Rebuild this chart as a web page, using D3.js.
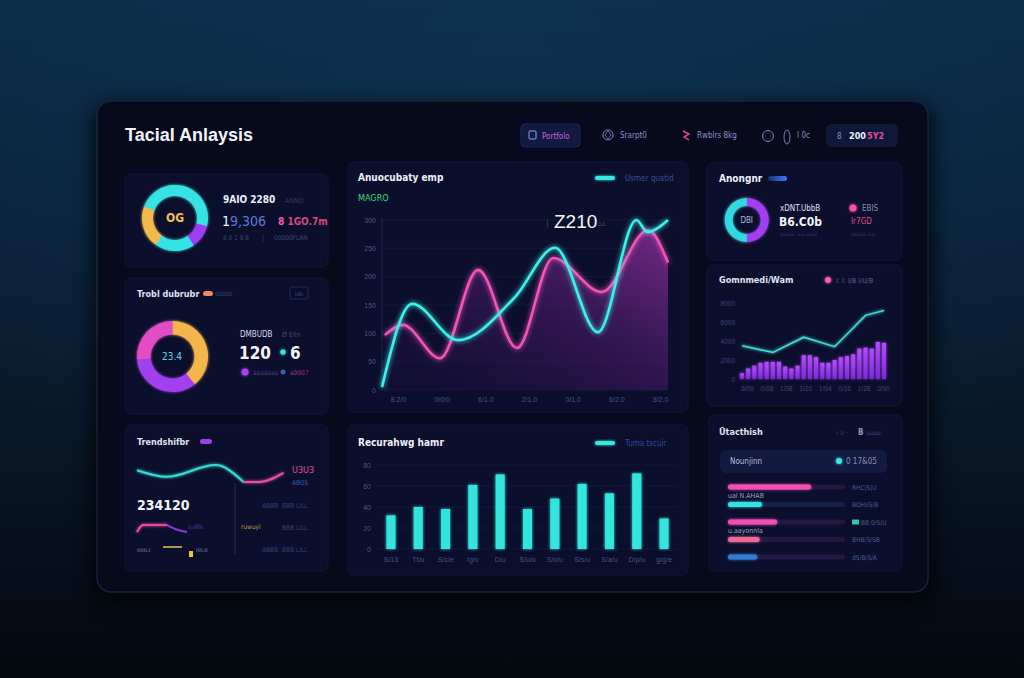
<!DOCTYPE html>
<html><head><meta charset="utf-8">
<script src="https://cdn.jsdelivr.net/npm/d3@7"></script>
<style>
html,body{margin:0;padding:0;background:#06101c;overflow:hidden}
svg{display:block}
text{font-family:"Liberation Sans Narrow","DejaVu Sans Condensed","Roboto",sans-serif}
</style></head><body>
<svg id="c" width="1024" height="678"></svg>
<script>
// ---------- DATA ----------
const title = "Tacial Anlaysis";
const navItems = ["Portfolo", "Srarpt0", "Rwblrs 8kg", "I 0c"];

// donut 1 (top-left)
const donut1Values = [29, 11.4, 19.7, 20.6, 19.3];
const donut1Colors = ["#36e2e4", "#9b3df2", "#36e2e4", "#f3b84c", "#36e2e4"];
// donut 2 (middle-left)
const donut2Values = [39.2, 34.4, 26.4];
const donut2Colors = ["#f4b64c", "#a23ff0", "#e24ec6"];
// donut 3 (top-right)
const donut3Values = [50, 50];
const donut3Colors = ["#a23ff0", "#30d8e2"];

// main line chart
const lineXLabels = ["8.2/0", "0/0/0", "6/1.0", "2/1.0", "6/1.0", "0/1.0", "6/2.0", "8/2.0"];
const lineYTicks = [0, 50, 100, 150, 200, 250, 300];
const cyanT = [0, 10.5, 26.6, 46.5, 60.5, 75.5, 89, 92.7, 100];
const cyanV = [5, 152, 88, 164, 251, 102, 300, 279, 300];
const pinkT = [1, 7.3, 20.3, 33.6, 47.2, 59.8, 76.9, 93, 100];
const pinkV = [97, 115, 56, 212, 74, 233, 173, 282, 225];

// bar chart (center bottom)
const barLabels = ["S/13", "Tt/u", "S/c/e", "Ig/u", "D/u", "S/u/o", "S/o/u", "S/s/u", "S/a/u", "D/p/u", "g/g/e"];
const barValues = [32, 40, 38, 61, 71, 38, 48, 62, 53, 72, 29];
const barYTicks = [0, 20, 40, 60, 80];

// mini combo chart (right middle)
const miniBars = [600, 1100, 1400, 1700, 1800, 1800, 1800, 1300, 1100, 1400, 2500, 2500, 2300, 1700, 1700, 2000, 2300, 2400, 2600, 3200, 3300, 3200, 3900, 3800];
const miniLineIdx = [0, 5, 10, 15, 20, 23];
const miniLineVals = [3500, 2800, 4400, 3400, 6700, 7200];
const miniYTicks = [0, 2000, 4000, 6000, 8000];
const miniXLabels = ["6/09", "0/08", "1/08", "1/26", "1/04", "0/16", "1/28", "0/90"];

// progress bars (right bottom)
const progressVals = [71, 29, 42, 27, 25];
const progressColors = ["#f050b4", "#34e2e0", "#f050b4", "#f06a98", "#2f7fd2"];
const progressLabels = ["RHC|S|U", "BOHI/S/B", "BB 0/S/U", "BHB/S/SB", "dS/B/S/A"];

// trend sparkline (left bottom)
const trendCyanT = [0, 2, 5.3, 7.2];
const trendCyanV = [66, 44, 83, 27];
const trendPinkT = [7.2, 8.3, 9.9];
const trendPinkV = [27, 27, 57];
const miniPinkT = [0, 6, 30];
const miniPinkV = [2.5, 8.3, 8.3];
const miniPurpleT = [30, 41, 50];
const miniPurpleV = [8.3, 4.2, 2.5];

// ---------- SETUP ----------
const svg = d3.select("#c");
const defs = svg.append("defs");

const bg = defs.append("linearGradient").attr("id", "bg").attr("x1", 0).attr("y1", 0).attr("x2", 0).attr("y2", 1);
bg.append("stop").attr("offset", 0).attr("stop-color", "#0d2c46");
bg.append("stop").attr("offset", 0.45).attr("stop-color", "#0a1f34");
bg.append("stop").attr("offset", 1).attr("stop-color", "#04080f");

const rg = defs.append("radialGradient").attr("id", "rg").attr("cx", 0.5).attr("cy", 0.1).attr("r", 0.7);
rg.append("stop").attr("offset", 0).attr("stop-color", "#10385a").attr("stop-opacity", 0.5);
rg.append("stop").attr("offset", 1).attr("stop-color", "#10385a").attr("stop-opacity", 0);

function glow(id, sd) {
  const f = defs.append("filter").attr("id", id).attr("x", "-50%").attr("y", "-50%").attr("width", "200%").attr("height", "200%");
  f.append("feGaussianBlur").attr("stdDeviation", sd).attr("result", "b");
  const m = f.append("feMerge");
  m.append("feMergeNode").attr("in", "b");
  m.append("feMergeNode").attr("in", "SourceGraphic");
}
glow("glow", 2.5);
glow("glowS", 1.4);
const sh = defs.append("filter").attr("id", "shadow").attr("x", "-10%").attr("y", "-10%").attr("width", "120%").attr("height", "130%");
sh.append("feGaussianBlur").attr("stdDeviation", 10);

const ag = defs.append("linearGradient").attr("id", "areaG").attr("x1", 0).attr("y1", 1).attr("x2", 1).attr("y2", 0);
ag.append("stop").attr("offset", 0).attr("stop-color", "#1a0c38").attr("stop-opacity", 0.3);
ag.append("stop").attr("offset", 0.55).attr("stop-color", "#4a1a68").attr("stop-opacity", 0.6);
ag.append("stop").attr("offset", 1).attr("stop-color", "#8a2e98").attr("stop-opacity", 0.85);

const pg = defs.append("linearGradient").attr("id", "purpleBar").attr("x1", 0).attr("y1", 0).attr("x2", 0).attr("y2", 1);
pg.append("stop").attr("offset", 0).attr("stop-color", "#b64cff");
pg.append("stop").attr("offset", 1).attr("stop-color", "#7a2ad6");

const bp = defs.append("linearGradient").attr("id", "bluePill").attr("x1", 0).attr("y1", 0).attr("x2", 1).attr("y2", 0);
bp.append("stop").attr("offset", 0).attr("stop-color", "#1a3070");
bp.append("stop").attr("offset", 1).attr("stop-color", "#3a7cff");

svg.append("rect").attr("width", 1024).attr("height", 678).attr("fill", "url(#bg)");
svg.append("rect").attr("width", 1024).attr("height", 678).attr("fill", "url(#rg)");

// frame
svg.append("rect").attr("x", 92).attr("y", 104).attr("width", 842).attr("height", 500).attr("rx", 16)
  .attr("fill", "#000").attr("opacity", 0.7).attr("filter", "url(#shadow)");
svg.append("rect").attr("x", 97).attr("y", 101).attr("width", 831).attr("height", 491).attr("rx", 14)
  .attr("fill", "#070a1d").attr("stroke", "#16243a").attr("stroke-width", 1.5);

function T(x, y, s, size, fill, opts = {}) {
  const t = svg.append("text").attr("x", x).attr("y", y).text(s)
    .attr("font-size", size).attr("fill", fill);
  if (opts.bold) t.attr("font-weight", "bold");
  if (opts.anchor) t.attr("text-anchor", opts.anchor);
  if (opts.family) t.style("font-family", opts.family);
  return t;
}

// title
T(125, 141, title, 18, "#f2f4fa", { bold: true, family: "'Liberation Sans',Arial,sans-serif" });

// nav
svg.append("rect").attr("x", 521).attr("y", 124).attr("width", 59).attr("height", 23).attr("rx", 4).attr("fill", "#121a42").attr("stroke", "#1c2858");
svg.append("line").attr("x1", 527).attr("x2", 574).attr("y1", 146).attr("y2", 146).attr("stroke", "#8a52e6").attr("stroke-width", 1.5).attr("filter", "url(#glowS)");
svg.append("rect").attr("x", 529).attr("y", 131).attr("width", 7).attr("height", 8).attr("rx", 1).attr("fill", "none").attr("stroke", "#8aa4e8");
T(542, 139, navItems[0], 8, "#d062dc");
svg.append("circle").attr("cx", 608).attr("cy", 135).attr("r", 5).attr("fill", "none").attr("stroke", "#7888b8");
svg.append("path").attr("d", "M608,131 L611,135 L608,139 L605,135Z").attr("fill", "none").attr("stroke", "#7888b8").attr("stroke-width", 0.8);
T(620, 138, navItems[1], 8, "#8a94c4");
svg.append("path").attr("d", "M683,131 L689,134 L684,137 L689,140").attr("fill", "none").attr("stroke", "#e4508c").attr("stroke-width", 1.4);
T(697, 138, navItems[2], 8, "#8a94c4");
svg.append("circle").attr("cx", 768).attr("cy", 136).attr("r", 5.5).attr("fill", "none").attr("stroke", "#7080b0");
svg.append("ellipse").attr("cx", 787).attr("cy", 137).attr("rx", 3).attr("ry", 7).attr("fill", "none").attr("stroke", "#7080b0");
T(797, 138, navItems[3], 8, "#8a94c4");
svg.append("rect").attr("x", 826).attr("y", 124).attr("width", 72).attr("height", 23).attr("rx", 5).attr("fill", "#0f1838");
T(837, 139, "8", 8, "#8090c0");
T(849, 139, "200", 9, "#f0f2fa", { bold: true });
T(867, 139, "5Y2", 9, "#e24c9c", { bold: true });

// panels
const panels = [
  [125, 174, 203, 93], [125, 278, 203, 136], [125, 425, 203, 146],
  [348, 162, 340, 250], [348, 425, 340, 150],
  [707, 163, 195, 97], [707, 265, 195, 141], [709, 415, 193, 156]
];
panels.forEach(p => svg.append("rect").attr("x", p[0]).attr("y", p[1]).attr("width", p[2]).attr("height", p[3]).attr("rx", 6)
  .attr("fill", "#0b0f2c").attr("stroke", "#10173a").attr("stroke-width", 1));

// donut helper
function donut(cx, cy, r0, r1, vals, cols) {
  const pie = d3.pie().sort(null).value(d => d)(vals);
  const arc = d3.arc().innerRadius(r0).outerRadius(r1);
  svg.append("g").attr("transform", `translate(${cx},${cy})`).attr("filter", "url(#glowS)")
    .selectAll("path").data(pie).join("path").attr("d", arc).attr("fill", (d, i) => cols[i]);
}

// ---- left panel 1 ----
donut(175, 218, 22, 33, donut1Values, donut1Colors);
T(175, 222, "OG", 12, "#f3c050", { bold: true, anchor: "middle" });
T(223, 203, "9AIO 2280", 10, "#eef0fa", { bold: true });
T(285, 203, "ANNO", 7, "#333e66");
const big1 = T(222, 226, "", 14, "#5a7ad8");
big1.append("tspan").attr("fill", "#eef0fa").text("1");
big1.append("tspan").text("9,306");
const pk1 = T(278, 225, "", 10, "#d8487e", { bold: true });
pk1.append("tspan").attr("fill", "#ff5aa0").text("8 ");
pk1.append("tspan").text("1GO.7m");
T(223, 240, "8 0 1 8 8", 6.5, "#3a4670");
T(262, 240, "|", 6.5, "#3a4670");
T(274, 240, "00000FLAN", 6.5, "#3a4670");

// ---- left panel 2 ----
T(137, 297, "Trobl dubrubr", 9, "#dfe3f2", { bold: true });
svg.append("rect").attr("x", 203).attr("y", 291).attr("width", 10).attr("height", 5).attr("rx", 2.5).attr("fill", "#f08468");
T(215, 296, "00000", 6, "#3a4670");
svg.append("rect").attr("x", 290).attr("y", 287).attr("width", 18).attr("height", 12).attr("rx", 2).attr("fill", "none").attr("stroke", "#222c58");
T(299, 296, "ldb", 6, "#3a4670", { anchor: "middle" });
donut(172.5, 356.5, 22, 35.5, donut2Values, donut2Colors);
T(172, 360, "23.4", 10, "#5fd8ee", { anchor: "middle" });
T(240, 337, "DMBUDB", 8, "#d8dcee");
T(282, 337, "Ø Elln", 7, "#3a4670");
T(239, 359, "120", 17, "#f2f4fa", { bold: true });
svg.append("circle").attr("cx", 283).attr("cy", 352).attr("r", 2.6).attr("fill", "#38e4e4").attr("filter", "url(#glowS)");
T(290, 359, "6", 17, "#f2f4fa", { bold: true });
svg.append("circle").attr("cx", 245).attr("cy", 372).attr("r", 3.5).attr("fill", "#a63ff0").attr("filter", "url(#glowS)");
T(253, 375, "aaaaaaa", 6.5, "#4a3a86");
svg.append("circle").attr("cx", 283).attr("cy", 372).attr("r", 2.5).attr("fill", "#2a6ab4");
T(290, 375, "a0007", 6.5, "#9a3468");

// ---- left panel 3 ----
T(137, 445, "Trendshifbr", 9, "#dfe3f2", { bold: true });
svg.append("rect").attr("x", 200).attr("y", 439).attr("width", 12).attr("height", 5).attr("rx", 2.5).attr("fill", "#9a42e6");
const tx = d3.scaleLinear().domain([0, 10]).range([137, 285]);
const ty = d3.scaleLinear().domain([0, 100]).range([490, 460]);
const tl = d3.line().x(d => d[0]).y(d => d[1]).curve(d3.curveMonotoneX);
svg.append("path").attr("d", tl(trendCyanT.map((t, i) => [tx(t), ty(trendCyanV[i])])))
  .attr("fill", "none").attr("stroke", "#34dcd8").attr("stroke-width", 2).attr("filter", "url(#glowS)");
svg.append("path").attr("d", tl(trendPinkT.map((t, i) => [tx(t), ty(trendPinkV[i])])))
  .attr("fill", "none").attr("stroke", "#ee4ea8").attr("stroke-width", 2).attr("filter", "url(#glowS)");
T(292, 473, "U3U3", 9, "#e44c9e");
T(292, 485, "ABO5", 6.5, "#3060b0");
T(137, 510, "234120", 14, "#f2f4fa", { bold: true });
svg.append("line").attr("x1", 235).attr("x2", 235).attr("y1", 483).attr("y2", 554).attr("stroke", "#283252");
const mx = d3.scaleLinear().domain([0, 50]).range([137, 187]);
const my = d3.scaleLinear().domain([0, 10]).range([535, 523]);
svg.append("path").attr("d", tl(miniPinkT.map((t, i) => [mx(t), my(miniPinkV[i])])))
  .attr("fill", "none").attr("stroke", "#ec4c9a").attr("stroke-width", 2).attr("filter", "url(#glowS)");
svg.append("path").attr("d", tl(miniPurpleT.map((t, i) => [mx(t), my(miniPurpleV[i])])))
  .attr("fill", "none").attr("stroke", "#8a3ed8").attr("stroke-width", 2);
T(188, 529, "ıı.ıIlllı", 6.5, "#5a3ca0");
T(241, 529, "ruwuyl", 6.5, "#b89a48");
[508, 530, 552].forEach((y, i) => {
  if (i !== 1) T(262, y, "ABBB", 6.5, "#34447a");
  T(282, y, "BBB", 6.5, "#34447a");
  T(296, y, "LILL", 6.5, "#34447a");
});
T(137, 552, "ıııııı.ı", 6.5, "#8088b0");
svg.append("line").attr("x1", 163).attr("x2", 182).attr("y1", 547).attr("y2", 547).attr("stroke", "#e8c05a").attr("stroke-width", 1.5);
svg.append("rect").attr("x", 189).attr("y", 551).attr("width", 4).attr("height", 6).attr("fill", "#f0c040");
T(196, 552, "ıııı.ıı", 6.5, "#8088b0");

// ---- center top: line chart ----
T(358, 181, "Anuocubaty emp", 10, "#eef0fa", { bold: true });
T(358, 201, "MAGRO", 9, "#3cd870");
svg.append("rect").attr("x", 595).attr("y", 176).attr("width", 20).attr("height", 4).attr("rx", 2).attr("fill", "#38e8e0").attr("filter", "url(#glowS)");
T(625, 181, "Usmer quatid", 8, "#34508e");

const lx = d3.scaleLinear().domain([0, 100]).range([382, 668]);
const ly = d3.scaleLinear().domain([0, 300]).range([390, 220]);
const lxp = d3.scalePoint().domain(lineXLabels).range([398, 660]);

const gl = svg.append("g");
gl.selectAll("line.g").data(lineYTicks).join("line").attr("x1", 382).attr("x2", 668)
  .attr("y1", d => ly(d)).attr("y2", d => ly(d)).attr("stroke", "#151c44").attr("stroke-width", 0.7);
gl.append("line").attr("x1", 382).attr("x2", 382).attr("y1", 218).attr("y2", 390).attr("stroke", "#1c2450");
const yAx = svg.append("g").attr("transform", "translate(382,0)")
  .call(d3.axisLeft(ly).tickValues(lineYTicks).tickSize(0).tickPadding(6));
yAx.select(".domain").remove();
yAx.selectAll("text").attr("fill", "#4a5582").attr("font-size", 7).style("font-family", "'Liberation Sans Narrow',sans-serif");
const xAx = svg.append("g").attr("transform", "translate(0,392)")
  .call(d3.axisBottom(lxp).tickSize(0).tickPadding(5));
xAx.select(".domain").remove();
xAx.selectAll("text").attr("fill", "#4a5582").attr("font-size", 7).style("font-family", "'Liberation Sans Narrow',sans-serif");

const pinkPts = pinkT.map((t, i) => [t, pinkV[i]]);
const cyanPts = cyanT.map((t, i) => [t, cyanV[i]]);
const area = d3.area().x(d => lx(d[0])).y0(ly(0)).y1(d => ly(d[1])).curve(d3.curveMonotoneX);
svg.append("path").attr("d", area(pinkPts)).attr("fill", "url(#areaG)");
const line = d3.line().x(d => lx(d[0])).y(d => ly(d[1])).curve(d3.curveMonotoneX);
svg.append("path").attr("d", line(pinkPts)).attr("fill", "none").attr("stroke", "#f452b8").attr("stroke-width", 2.6).attr("filter", "url(#glow)");
svg.append("path").attr("d", line(cyanPts)).attr("fill", "none").attr("stroke", "#3cf0ea").attr("stroke-width", 2.6).attr("filter", "url(#glow)");
T(546, 226, "|", 9, "#3a4670");
T(554, 228, "Z210", 19, "#f4f6fc", { family: "'Liberation Sans',Arial,sans-serif" });
T(598, 226, "ΔΔ", 6, "#3a4670");

// ---- center bottom: bar chart ----
T(358, 446, "Recurahwg hamr", 10, "#eef0fa", { bold: true });
svg.append("rect").attr("x", 595).attr("y", 441).attr("width", 20).attr("height", 4).attr("rx", 2).attr("fill", "#38e8e0").attr("filter", "url(#glowS)");
T(625, 446, "Tuma tscuir", 8, "#2a4aa0");
const bx = d3.scaleBand().domain(barLabels).range([377.4, 677.6]).paddingInner(0.67).paddingOuter(0.33);
const by = d3.scaleLinear().domain([0, 80]).range([549, 465]);
svg.append("g").selectAll("line").data(barYTicks).join("line").attr("x1", 376).attr("x2", 678)
  .attr("y1", d => by(d)).attr("y2", d => by(d)).attr("stroke", "#141b42").attr("stroke-width", 0.7);
const byAx = svg.append("g").attr("transform", "translate(376,0)").call(d3.axisLeft(by).tickValues(barYTicks).tickSize(0).tickPadding(5));
byAx.select(".domain").remove();
byAx.selectAll("text").attr("fill", "#4a5582").attr("font-size", 7).style("font-family", "'Liberation Sans Narrow',sans-serif");
svg.append("g").attr("filter", "url(#glowS)").selectAll("rect").data(barValues).join("rect")
  .attr("x", (d, i) => bx(barLabels[i])).attr("width", bx.bandwidth())
  .attr("y", d => by(d)).attr("height", d => by(0) - by(d)).attr("fill", "#32e6de");
const bxAx = svg.append("g").attr("transform", "translate(0,552)").call(d3.axisBottom(bx).tickSize(0).tickPadding(5));
bxAx.select(".domain").remove();
bxAx.selectAll("text").attr("fill", "#4a5582").attr("font-size", 7).style("font-family", "'Liberation Sans Narrow',sans-serif");

// ---- right panel 1 ----
T(719, 182, "Anongnr", 10, "#eef0fa", { bold: true });
svg.append("rect").attr("x", 768).attr("y", 176).attr("width", 19).attr("height", 5).attr("rx", 2.5).attr("fill", "url(#bluePill)");
donut(746.7, 220, 14, 22, donut3Values, donut3Colors);
T(746.7, 223, "DBI", 8, "#b0b8d4", { anchor: "middle" });
T(780, 211, "xDNT.UbbB", 8, "#dfe3f2");
T(779, 226, "B6.C0b", 12, "#f2f4fa", { bold: true });
T(780, 236, "uuuu  uu.uuu", 6.5, "#2e3a64");
svg.append("circle").attr("cx", 853).attr("cy", 208).attr("r", 3.5).attr("fill", "#ff4fa4").attr("filter", "url(#glowS)");
T(862, 211, "EBIS", 8, "#8890b4");
T(851, 224, "Ir7GD", 8, "#e2508c");
T(851, 236, "uuuu.uu", 6.5, "#2e3a64");

// ---- right panel 2: combo ----
T(719, 283, "Gomnmedi/Wam", 9, "#dfe3f2", { bold: true });
svg.append("circle").attr("cx", 828).attr("cy", 280).attr("r", 3).attr("fill", "#ff5ab8").attr("filter", "url(#glowS)");
T(836, 283, "I: I: I/B  I/U/B", 7, "#5a6290");
const rx = d3.scaleBand().domain(d3.range(miniBars.length)).range([738.9, 887.1]).paddingInner(0.35).paddingOuter(0.17);
const ry = d3.scaleLinear().domain([0, 8000]).range([379, 303]);
const ryAx = svg.append("g").attr("transform", "translate(738,0)").call(d3.axisLeft(ry).tickValues(miniYTicks).tickFormat(d3.format("d")).tickSize(0).tickPadding(3));
ryAx.select(".domain").remove();
ryAx.selectAll("text").attr("fill", "#3a4678").attr("font-size", 6.5).style("font-family", "'Liberation Sans Narrow',sans-serif");
svg.append("g").attr("filter", "url(#glowS)").selectAll("rect").data(miniBars).join("rect")
  .attr("x", (d, i) => rx(i)).attr("width", rx.bandwidth())
  .attr("y", d => ry(d)).attr("height", d => ry(0) - ry(d)).attr("fill", "url(#purpleBar)");
const mline = d3.line().x(d => rx(d[0]) + rx.bandwidth() / 2).y(d => ry(d[1]));
svg.append("path").attr("d", mline(miniLineIdx.map((k, i) => [k, miniLineVals[i]])))
  .attr("fill", "none").attr("stroke", "#40dcd4").attr("stroke-width", 1.6).attr("filter", "url(#glowS)");
const rxp = d3.scalePoint().domain(miniXLabels).range([747, 883]);
const rxAx = svg.append("g").attr("transform", "translate(0,384)").call(d3.axisBottom(rxp).tickSize(0).tickPadding(2));
rxAx.select(".domain").remove();
rxAx.selectAll("text").attr("fill", "#3a4678").attr("font-size", 6.5).style("font-family", "'Liberation Sans Narrow',sans-serif");

// ---- right panel 3: progress ----
T(719, 435, "Ūtacthish", 9, "#dfe3f2", { bold: true });
T(836, 435, "‹  ıı  ·", 7, "#3e4a78");
T(858, 435, "B", 8, "#8a94c0", { bold: true });
T(866, 435, "uuuu", 6.5, "#3e4a78");
svg.append("rect").attr("x", 720).attr("y", 450).attr("width", 167).attr("height", 23).attr("rx", 6).attr("fill", "#121a40");
T(730, 464, "Nounjinn", 8, "#b8c0da");
svg.append("circle").attr("cx", 839).attr("cy", 461).attr("r", 3).attr("fill", "#38e8e4").attr("filter", "url(#glowS)");
T(846, 464, "0  17&05", 8, "#8890b4");
const progY = d3.scalePoint().domain(d3.range(progressVals.length)).range([487, 557]);
const progX = d3.scaleLinear().domain([0, 100]).range([728, 845]);
const pgG = svg.append("g");
pgG.selectAll("rect.t").data(progressVals).join("rect")
  .attr("x", progX(0)).attr("width", progX(100) - progX(0))
  .attr("y", (d, i) => progY(i) - 2.5).attr("height", 5).attr("rx", 2.5)
  .attr("fill", (d, i) => i % 2 === 0 || i === 3 ? "#261840" : "#16204a");
pgG.append("g").attr("filter", "url(#glowS)").selectAll("rect").data(progressVals).join("rect")
  .attr("x", progX(0)).attr("width", d => progX(d) - progX(0))
  .attr("y", (d, i) => progY(i) - 2.5).attr("height", 5).attr("rx", 2.5)
  .attr("fill", (d, i) => progressColors[i]);
progressLabels.forEach((s, i) => T(i === 2 ? 861 : 852, progY(i) + 2.5, s, 6.5, "#4a5a94"));
svg.append("rect").attr("x", 852).attr("y", progY(2) - 2.5).attr("width", 7).attr("height", 5).attr("fill", "#30c8b4");
T(728, 498, "ual N.AHAB", 7, "#9aa2c4");
T(728, 533, "u.aayonnla", 7, "#9aa2c4");
</script>
</body></html>
